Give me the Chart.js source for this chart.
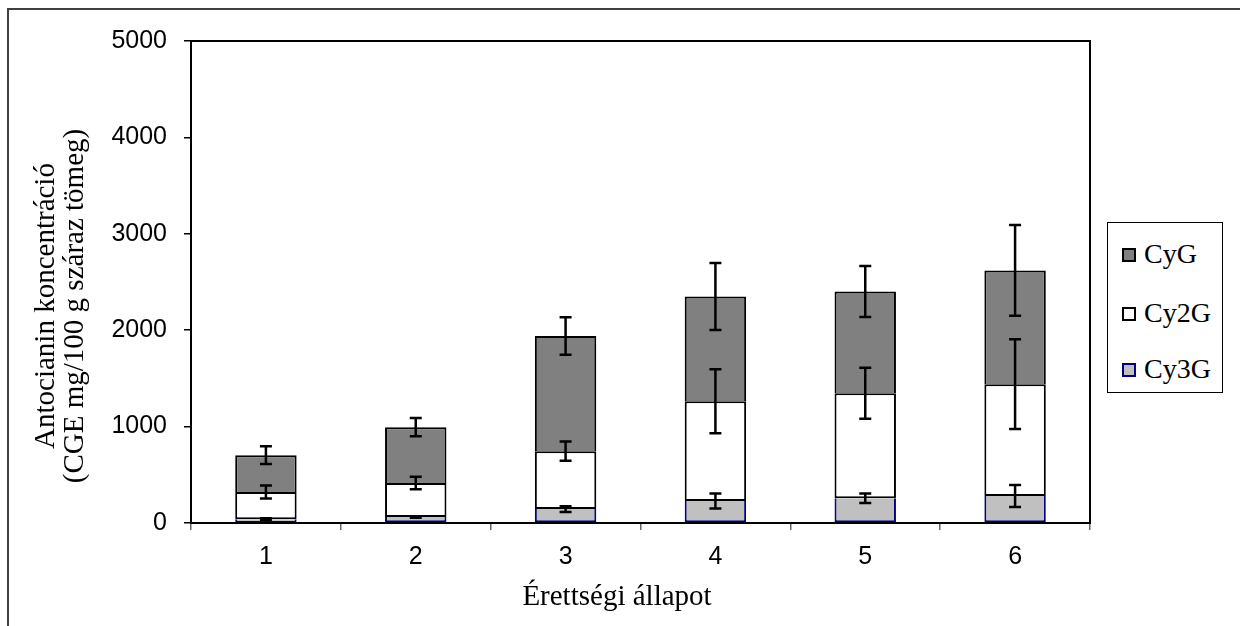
<!DOCTYPE html>
<html>
<head>
<meta charset="utf-8">
<script src="https://cdn.jsdelivr.net/npm/chart.js@4"></script>
<style>
  html, body { margin: 0; padding: 0; background: #fff; overflow: hidden; }
  #wrap { position: relative; width: 1240px; height: 626px; }
  #frame { position: absolute; left: 7px; top: 8px; width: 1300px; height: 700px;
           border-top: 2px solid #404040; border-left: 2px solid #404040; }
  canvas { position: absolute; left: 0; top: 0; }
  .serif { font-family: "Liberation Serif", "Times New Roman", serif; color: #000; }
  #ytitle { position: absolute; left: 59px; top: 306px; width: 420px;
            transform: translate(-50%, -50%) rotate(-90deg);
            text-align: center; font-size: 29px; line-height: 29px; white-space: nowrap; }
  #xtitle { position: absolute; left: 417px; top: 581px; width: 400px;
            text-align: center; font-size: 29px; line-height: 29px; white-space: nowrap; }
  #legend { position: absolute; left: 1107px; top: 222px; width: 114px; height: 169px;
            border: 1px solid #000; background: #fff; }
  .item { position: absolute; left: 14px; height: 30px; font-size: 28px; line-height: 30px; white-space: nowrap; }
  .box { position: absolute; left: 0; top: 9px; width: 10px; height: 10px; border: 2px solid #000; }
  .item span { position: absolute; left: 22px; top: 0; }
</style>
</head>
<body>
<div id="wrap">
  <div id="frame"></div>
  <canvas id="chart" width="1240" height="626"></canvas>
  <div id="ytitle" class="serif">Antocianin koncentráció<br>(CGE mg/100 g száraz tömeg)</div>
  <div id="xtitle" class="serif">Érettségi állapot</div>
  <div id="legend" class="serif"></div>
</div>
<script>
const categories = ['1', '2', '3', '4', '5', '6'];
const yTicks = [0, 1000, 2000, 3000, 4000, 5000];

// segment heights (stacked from bottom)
const cy3g = [40, 62, 145, 228, 257, 280];
const cy2g = [281, 352, 600, 1035, 1089, 1160];
const cyg = [383, 580, 1195, 1087, 1056, 1180];

// error bar half-lengths, drawn at the top of each segment
const cy3gErr = [10, 8, 30, 77, 50, 113];
const cy2gErr = [67, 65, 100, 331, 264, 465];
const cygErr = [93, 95, 195, 347, 264, 470];

const errorBars = {
  id: 'errorBars',
  afterDatasetsDraw(chart) {
    const ctx = chart.ctx;
    const y = chart.scales.y;
    ctx.save();
    ctx.strokeStyle = '#000';
    ctx.lineWidth = 2.5;
    chart.data.datasets.forEach((ds, di) => {
      const meta = chart.getDatasetMeta(di);
      meta.data.forEach((bar, i) => {
        const top = y.getValueForPixel(bar.y);
        const hi = y.getPixelForValue(top + ds.errors[i]);
        const lo = y.getPixelForValue(top - ds.errors[i]);
        ctx.beginPath();
        ctx.moveTo(bar.x, hi); ctx.lineTo(bar.x, lo);
        ctx.moveTo(bar.x - 6, hi); ctx.lineTo(bar.x + 6, hi);
        ctx.moveTo(bar.x - 6, lo); ctx.lineTo(bar.x + 6, lo);
        ctx.stroke();
      });
    });
    ctx.restore();
  },
  afterDraw(chart) {
    const a = chart.chartArea;
    const ctx = chart.ctx;
    ctx.save();
    ctx.strokeStyle = '#000';
    ctx.lineWidth = 2;
    ctx.strokeRect(a.left, a.top, a.right - a.left, a.bottom - a.top);
    ctx.restore();
  }
};

const datasets = [
  { label: 'Cy3G', data: cy3g, errors: cy3gErr, backgroundColor: '#c0c0c0', borderColor: '#000080',
    borderWidth: { top: 0, left: 2, right: 2, bottom: 2 } },
  { label: 'Cy2G', data: cy2g, errors: cy2gErr, backgroundColor: '#ffffff', borderColor: '#000',
    borderWidth: { top: 2, left: 2, right: 2, bottom: 2 } },
  { label: 'CyG', data: cyg, errors: cygErr, backgroundColor: '#808080', borderColor: '#000',
    borderWidth: { top: 2, left: 2, right: 2, bottom: 0 } }
];
datasets.forEach(d => { d.borderSkipped = false; d.barPercentage = 0.41; d.categoryPercentage = 1; });

new Chart(document.getElementById('chart'), {
  type: 'bar',
  data: { labels: categories, datasets: datasets },
  plugins: [errorBars],
  options: {
    responsive: false,
    animation: false,
    devicePixelRatio: 1,
    layout: { padding: { left: 81, right: 150, top: 41, bottom: 43 } },
    plugins: { legend: { display: false }, tooltip: { enabled: false } },
    scales: {
      x: {
        stacked: true,
        afterFit(s) { s.height = 60; },
        border: { display: false },
        grid: { drawOnChartArea: false, tickLength: 7, color: '#666', lineWidth: 1.5, offset: true },
        ticks: { color: '#000', padding: 12, font: { family: '"Liberation Sans", Arial', size: 25 } }
      },
      y: {
        stacked: true,
        min: 0, max: 5000,
        afterFit(s) { s.width = 110; },
        afterBuildTicks(s) { s.ticks = yTicks.map(v => ({ value: v })); },
        border: { display: false },
        grid: { drawOnChartArea: false, tickLength: 7, color: '#000', lineWidth: 1.5 },
        ticks: { color: '#000', padding: 17, callback: v => String(v),
                 font: { family: '"Liberation Sans", Arial', size: 25 } }
      }
    }
  }
});

// legend, top item = top of stack
const legend = document.getElementById('legend');
const tops = [16, 75, 131];
datasets.slice().reverse().forEach((d, k) => {
  const item = document.createElement('div');
  item.className = 'item';
  item.style.top = tops[k] + 'px';
  item.innerHTML = `<div class="box" style="background:${d.backgroundColor};border-color:${d.borderColor}"></div><span>${d.label}</span>`;
  legend.appendChild(item);
});
</script>
</body>
</html>
